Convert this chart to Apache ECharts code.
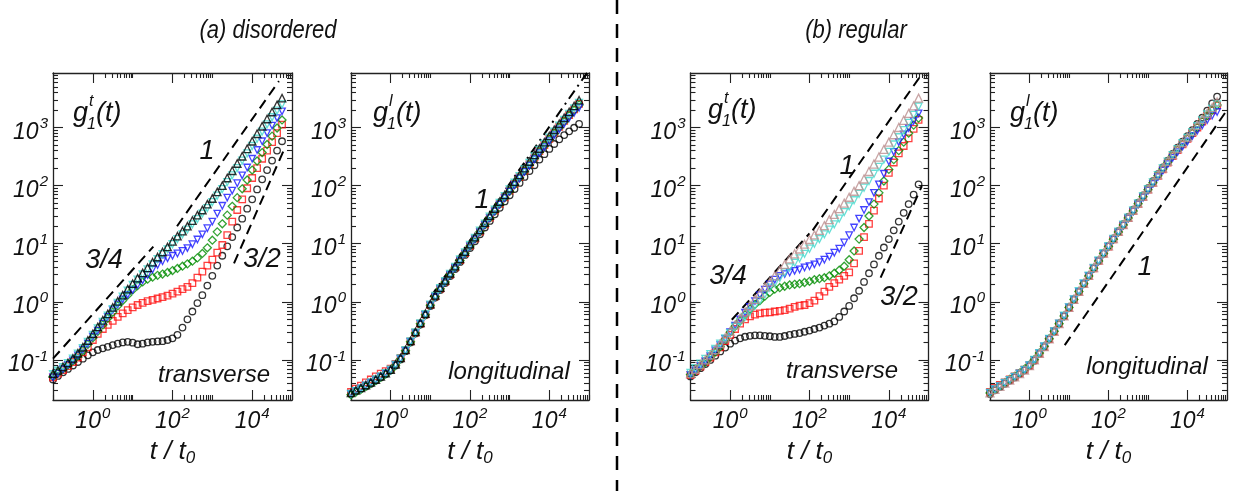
<!DOCTYPE html>
<html><head><meta charset="utf-8">
<script src="https://cdn.jsdelivr.net/npm/echarts@6/dist/echarts.min.js"></script>
<style>html,body{margin:0;padding:0;background:#fff}#c{width:1236px;height:491px}</style>
</head><body><div id="c"></div>
<script>
// time axis t / t0 (shared by all series)
const t = [0.1,0.133,0.178,0.237,0.316,0.422,0.562,0.75,1,1.33,1.78,2.37,3.16,4.22,5.62,7.5,10,13.3,17.8,23.7,31.6,42.2,56.2,75,100,133,178,237,316,422,562,750,1000,1330,1780,2370,3160,4220,5620,7500,10000,13300,17800,23700,31600,42200,56200];

// tick labels
const X_TICKS = [1, 100, 10000];
const Y_TICKS = [0.1, 1, 10, 100, 1000];

// (a) disordered - transverse g1^t
const aT_circles = [0.046,0.053,0.061,0.07,0.08,0.092,0.105,0.12,0.135,0.148,0.158,0.168,0.18,0.19,0.2,0.205,0.198,0.186,0.19,0.2,0.205,0.208,0.21,0.22,0.235,0.27,0.36,0.5,0.68,0.95,1.3,1.9,2.8,4.2,6.2,9,13,19,27,40,58,86,128,185,270,400,580];
const aT_squares = [0.05,0.058,0.067,0.078,0.092,0.11,0.135,0.165,0.22,0.28,0.34,0.4,0.47,0.55,0.63,0.72,0.8,0.88,0.96,1.03,1.08,1.14,1.2,1.28,1.38,1.5,1.65,1.8,2.1,2.6,3.3,4.2,5.3,7,9.5,14,24,38,58,90,135,200,290,400,560,800,1120];
const aT_diamonds = [0.052,0.06,0.07,0.082,0.097,0.118,0.145,0.185,0.24,0.31,0.4,0.52,0.66,0.85,1.05,1.3,1.6,1.9,2.2,2.45,2.65,2.85,3.0,3.2,3.45,3.75,4.1,4.5,5.0,5.7,6.8,8.5,11.5,16,22,31,44,62,88,125,185,265,370,510,710,980,1350];
const aT_downTri = [0.05,0.058,0.069,0.082,0.098,0.12,0.15,0.19,0.25,0.32,0.42,0.55,0.72,0.9,1.1,1.32,1.6,1.95,2.35,2.9,3.6,4.3,5.0,5.6,6.2,6.8,7.5,8.4,9.8,11.8,14.5,18.5,24,33,45,62,82,110,150,205,290,410,580,800,1080,1450,1900];
const aT_cyan = [0.057,0.065,0.075,0.088,0.105,0.128,0.16,0.205,0.27,0.35,0.45,0.58,0.75,0.96,1.22,1.55,1.95,2.4,2.95,3.6,4.4,5.4,6.6,8,9.8,12,14.5,17.5,21.5,26.5,33,41,52,67,87,115,150,200,270,360,480,640,850,1130,1500,1950,2500];
const aT_upTri = [0.058,0.066,0.076,0.089,0.106,0.13,0.165,0.215,0.28,0.37,0.48,0.62,0.8,1.02,1.3,1.65,2.05,2.55,3.15,3.85,4.8,5.9,7.2,8.8,11,13.5,16.5,20,25,31,38,48,60,78,100,135,180,240,320,430,580,780,1050,1400,1850,2450,3200];

// (a) disordered - longitudinal g1^l
const aL_circles = [0.026,0.029,0.032,0.035,0.039,0.044,0.05,0.057,0.066,0.08,0.102,0.141,0.2,0.285,0.405,0.585,0.85,1.18,1.6,2.1,2.78,3.65,4.85,6.4,8.4,11.0,14.5,19,24.7,32,41.5,53.5,68,87,111,141,178,224,280,348,428,520,625,740,860,990,1150];
const aL_squares = [0.028,0.032,0.036,0.041,0.046,0.052,0.058,0.064,0.071,0.085,0.108,0.147,0.208,0.295,0.42,0.605,0.885,1.24,1.68,2.22,2.95,3.9,5.2,6.9,9.2,12.2,16.2,21.5,28.2,37,48.5,63,82,107,140,182,235,305,392,500,640,815,1030,1300,1640,2050,2550];
const aL_diamonds = [0.025,0.028,0.031,0.035,0.039,0.044,0.05,0.057,0.066,0.081,0.104,0.144,0.205,0.291,0.418,0.6,0.875,1.23,1.67,2.2,2.92,3.86,5.15,6.85,9.1,12.1,16.0,21.2,27.8,36.5,48,62,80,104,136,177,228,296,380,485,620,790,1000,1260,1590,1980,2450];
const aL_downTri = [0.026,0.029,0.032,0.036,0.04,0.045,0.051,0.058,0.066,0.081,0.104,0.143,0.204,0.29,0.415,0.595,0.865,1.21,1.65,2.18,2.9,3.82,5.1,6.75,9.0,11.9,15.8,21,27.5,36,47,61,79,102,133,172,220,284,362,460,585,740,930,1160,1450,1790,2180];
const aL_cyan = [0.026,0.029,0.032,0.036,0.041,0.046,0.052,0.059,0.068,0.083,0.106,0.147,0.209,0.298,0.425,0.61,0.895,1.26,1.71,2.27,3.02,4.0,5.35,7.1,9.5,12.6,16.7,22.2,29.2,38.4,50.5,66,86,112,146,190,245,318,410,523,668,850,1075,1355,1710,2140,2650];
const aL_upTri = [0.027,0.03,0.033,0.037,0.041,0.046,0.052,0.059,0.068,0.084,0.108,0.149,0.212,0.303,0.435,0.625,0.915,1.29,1.76,2.33,3.1,4.1,5.5,7.3,9.8,13,17.3,23,30.4,40,53,69,90,117,153,200,260,338,435,558,715,915,1160,1470,1860,2350,2950];

// (b) regular - transverse g1^t
const bT_circles = [0.052,0.061,0.072,0.085,0.1,0.118,0.14,0.163,0.19,0.215,0.235,0.25,0.26,0.265,0.265,0.26,0.255,0.248,0.248,0.258,0.27,0.28,0.29,0.305,0.32,0.34,0.36,0.39,0.42,0.46,0.55,0.68,0.85,1.15,1.55,2.2,3.1,4.4,6.2,8.6,12,17,24,34,48,70,105];
const bT_squares = [0.055,0.065,0.077,0.092,0.11,0.135,0.165,0.21,0.27,0.34,0.42,0.5,0.56,0.6,0.63,0.65,0.66,0.68,0.7,0.72,0.76,0.82,0.86,0.88,0.95,1.05,1.25,1.5,1.8,2.1,2.4,2.8,3.2,4.6,7.5,13,22,37,60,100,165,250,360,480,650,950,1350];
const bT_diamonds = [0.056,0.066,0.078,0.093,0.112,0.137,0.17,0.225,0.3,0.38,0.47,0.6,0.75,0.9,1.05,1.25,1.45,1.65,1.75,1.85,1.95,2.0,2.05,2.15,2.25,2.4,2.5,2.6,2.8,3.1,3.5,4.1,5.3,7.5,12,19,30,48,75,120,190,280,400,560,800,1100,1450];
const bT_downTri = [0.055,0.066,0.079,0.095,0.116,0.145,0.18,0.23,0.3,0.39,0.5,0.65,0.82,1.03,1.3,1.62,2.0,2.4,2.8,3.0,3.2,3.4,3.6,3.9,4.1,4.4,4.8,5.3,6.0,7.0,8.2,10.5,14,19,27,38,52,75,105,160,260,380,560,760,980,1300,1750];
const bT_cyan = [0.06,0.072,0.086,0.104,0.126,0.155,0.19,0.235,0.29,0.37,0.45,0.55,0.68,0.85,1.05,1.35,1.75,2.1,2.6,3.2,3.9,4.7,5.6,6.7,8.2,10,12,14.5,17.5,21.5,27,35,44,56,72,92,120,160,210,280,380,510,680,900,1200,1650,2300];
const bT_upTri = [0.058,0.069,0.083,0.1,0.122,0.15,0.19,0.24,0.31,0.4,0.52,0.67,0.86,1.1,1.4,1.8,2.2,2.8,3.5,4.4,5.5,6.7,8.1,9.8,11.8,14.2,17,20.5,26,32,40,50,63,80,100,130,175,235,310,420,560,750,1000,1330,1750,2350,3200];

// (b) regular - longitudinal g1^l
const bL_circles = [0.026,0.03,0.034,0.039,0.044,0.05,0.057,0.066,0.078,0.097,0.127,0.168,0.226,0.305,0.415,0.565,0.79,1.09,1.49,2.04,2.8,3.8,5.1,6.9,9.2,12.3,16.4,21.6,29,38.5,51,68,90,119,158,206,270,350,450,570,710,900,1150,1480,1950,2600,3400];
const bL_squares = [0.028,0.033,0.037,0.041,0.046,0.052,0.059,0.068,0.08,0.099,0.128,0.168,0.228,0.31,0.42,0.57,0.79,1.08,1.48,2.03,2.78,3.78,5.05,6.75,8.9,11.9,15.8,20.8,27.7,36.6,48.5,64,85,111,147,191,250,322,410,515,635,800,1000,1260,1590,1980,2400];
const bL_diamonds = [0.027,0.031,0.035,0.04,0.046,0.052,0.059,0.069,0.082,0.102,0.132,0.172,0.232,0.312,0.42,0.57,0.8,1.1,1.5,2.05,2.78,3.78,5.05,6.75,8.95,11.9,15.9,20.9,27.8,36.7,48.6,64.5,85,112,148,193,252,326,415,522,640,805,1010,1270,1610,2000,2450];
const bL_downTri = [0.027,0.031,0.035,0.04,0.045,0.051,0.058,0.067,0.08,0.1,0.13,0.17,0.23,0.31,0.42,0.57,0.8,1.1,1.5,2.05,2.78,3.75,5.0,6.7,8.9,11.8,15.7,20.6,27.3,36,47.5,62.5,82,107,140,181,234,300,378,470,575,715,885,1090,1340,1600,1850];
const bL_cyan = [0.027,0.031,0.035,0.04,0.045,0.051,0.058,0.067,0.08,0.1,0.13,0.17,0.23,0.31,0.42,0.575,0.8,1.1,1.52,2.07,2.82,3.82,5.15,6.85,9.05,12.1,16.1,21.2,28.2,37.3,49.5,65.5,86.5,114,151,197,258,334,425,537,660,835,1050,1320,1680,2080,2500];
const bL_upTri = [0.027,0.031,0.035,0.04,0.045,0.051,0.058,0.067,0.08,0.1,0.13,0.17,0.23,0.31,0.42,0.575,0.8,1.1,1.52,2.08,2.84,3.86,5.2,6.9,9.15,12.2,16.3,21.4,28.5,37.7,50,66,87.5,115,153,200,262,340,435,550,680,860,1090,1380,1760,2200,2750];

// power-law guide lines: [t, g] end points
const guide_a_34 = [[0.1,0.105],[33,8.9]];
const guide_a_1 = [[130,20],[47000,6300]];
const guide_a_32 = [[3500,4.6],[63000,415]];
const guide_al_1 = [[10,1.2],[89000,8700]];
const guide_b_34 = [[1.1,0.49],[100,15]];
const guide_b_1 = [[120,17],[62000,7600]];
const guide_b_32 = [[6200,2.6],[68000,98]];
const guide_bl_1 = [[7.8,0.18],[89000,1780]];

const FONT = "'Liberation Sans', Arial, Helvetica, sans-serif";
const X_MIN = 0.1, X_MAX = 1e5, Y_MIN = 0.0204, Y_MAX = 8670;

const panelRects = [
  {left:53, top:73, width:239, height:327},
  {left:351, top:73, width:238, height:327},
  {left:690.5, top:73, width:238, height:327},
  {left:990, top:73, width:237, height:327}
];

function nice(v){ return Number(v.toPrecision(6)); }
const X_MINOR = [];
[-2,0,2,4].forEach(k=>{ for(let m=2;m<=10;m++){ const v=nice(m*Math.pow(10,k)); if(v>=X_MIN && v<=X_MAX) X_MINOR.push(v);} });
const Y_MINOR = [];
[-2,-1,0,1,2,3].forEach(k=>{ for(let m=2;m<=9;m++){ const v=nice(m*Math.pow(10,k)); if(v>=Y_MIN && v<=Y_MAX) Y_MINOR.push(v);} });

const RICH = {
  b:{fontSize:23, fontStyle:'italic', fontFamily:FONT, color:'#111', lineHeight:32},
  s:{fontSize:15, fontStyle:'italic', fontFamily:FONT, color:'#111', verticalAlign:'top', lineHeight:15, padding:[0,0,0,1]}
};
function powFmt(v){ const e = Math.round(Math.log10(v)); return '{b|10}{s|' + e + '}'; }

const LINE = {color:'#222', width:1.3};
const grid = [], xAxis = [], yAxis = [];
panelRects.forEach((r, p) => {
  // 4 overlapping grids per panel: main, minor, opposite main, opposite minor
  for (let k=0;k<4;k++){
    grid.push({left:r.left, top:r.top, width:r.width, height:r.height, containLabel:false});
    const gi = p*4 + k;
    const opposite = k>=2, minor = (k%2)===1;
    xAxis.push({
      gridIndex:gi, type:'log', logBase:10, min:X_MIN, max:X_MAX,
      position: opposite ? 'top' : 'bottom',
      axisLine:{show: !minor, onZero:false, lineStyle:LINE},
      axisTick:{show:true, inside:true, length: minor?5:10, customValues: minor?X_MINOR:X_TICKS, lineStyle:{color:'#222', width:1.1}},
      axisLabel:{show: k===0, customValues:X_TICKS, formatter:powFmt, rich:RICH, margin:6},
      splitLine:{show:false}, minorTick:{show:false},
      name: k===0 ? '{a|t / t}{u|0}' : '',
      nameLocation:'middle', nameGap:33,
      nameTextStyle:{rich:{
        a:{fontSize:26, fontStyle:'italic', fontFamily:FONT, color:'#111', lineHeight:30},
        u:{fontSize:17, fontStyle:'italic', fontFamily:FONT, color:'#111', verticalAlign:'bottom', lineHeight:14}
      }}
    });
    yAxis.push({
      gridIndex:gi, type:'log', logBase:10, min:Y_MIN, max:Y_MAX,
      position: opposite ? 'right' : 'left',
      axisLine:{show: !minor, onZero:false, lineStyle:LINE},
      axisTick:{show:true, inside:true, length: minor?5:10, customValues: minor?Y_MINOR:Y_TICKS, lineStyle:{color:'#222', width:1.1}},
      axisLabel:{show: k===0, customValues:Y_TICKS, formatter:powFmt, rich:RICH, margin:5, padding:[10,0,0,0]},
      splitLine:{show:false}, minorTick:{show:false}
    });
  }
});

const STY = {
  circles:{symbol:'circle', c:'#000000', size:6.5, rot:0},
  squares:{symbol:'rect', c:'#ff1010', size:6.5, rot:0},
  diamonds:{symbol:'diamond', c:'#008c00', size:8, rot:0},
  downTri:{symbol:'triangle', c:'#1414ff', size:6.5, rot:180},
  cyan:{symbol:'triangle', c:'#40d8cc', size:7, rot:180},
  upTri:{symbol:'triangle', c:'#000000', size:7.5, rot:0},
  pinkTri:{symbol:'triangle', c:'#bc8f8f', size:8, rot:0}
};
function scat(p, key, ys){
  const s = STY[key];
  return {type:'scatter', xAxisIndex:p*4, yAxisIndex:p*4, data:t.map((x,i)=>[x, ys[i]]),
    symbol:s.symbol, symbolSize:s.size, symbolRotate:s.rot, silent:true, z:3,
    itemStyle:{color:'rgba(255,255,255,0)', borderColor:s.c, borderWidth:1.3}};
}
function guide(p, pts, dash){
  return {type:'line', xAxisIndex:p*4, yAxisIndex:p*4, data:pts, showSymbol:false, silent:true, z:2,
    lineStyle:{color:'#000', width:2, type:dash}};
}
const DASH = [10,6], DASHDOT = [10,5,2,5];

const series = [
  scat(0,'circles',aT_circles), scat(0,'squares',aT_squares), scat(0,'diamonds',aT_diamonds),
  scat(0,'downTri',aT_downTri), scat(0,'cyan',aT_cyan), scat(0,'upTri',aT_upTri),
  guide(0,guide_a_34,DASH), guide(0,guide_a_1,DASH), guide(0,guide_a_32,DASH),
  scat(1,'circles',aL_circles), scat(1,'squares',aL_squares), scat(1,'diamonds',aL_diamonds),
  scat(1,'downTri',aL_downTri), scat(1,'cyan',aL_cyan), scat(1,'upTri',aL_upTri),
  guide(1,guide_al_1,DASHDOT),
  scat(2,'circles',bT_circles), scat(2,'squares',bT_squares), scat(2,'diamonds',bT_diamonds),
  scat(2,'downTri',bT_downTri), scat(2,'cyan',bT_cyan), scat(2,'pinkTri',bT_upTri),
  guide(2,guide_b_34,DASH), guide(2,guide_b_1,DASH), guide(2,guide_b_32,DASH),
  scat(3,'circles',bL_circles), scat(3,'squares',bL_squares), scat(3,'diamonds',bL_diamonds),
  scat(3,'downTri',bL_downTri), scat(3,'cyan',bL_cyan), scat(3,'pinkTri',bL_upTri),
  guide(3,guide_bl_1,DASH)
];

function txt(text, x, y, size, extra){
  return Object.assign({type:'text', x:x, y:y, z:50, silent:true,
    style:{text:text, fontSize:size, fontStyle:'italic', fontFamily:FONT, fill:'#111', align:'center', verticalAlign:'middle'}}, extra||{});
}
function gLabel(x, y, sup){
  return [
    {type:'text', x:x, y:y-1, z:50, silent:true, style:{text:'g', fontSize:27, fontStyle:'italic', fontFamily:FONT, fill:'#111', align:'left', verticalAlign:'top'}},
    {type:'text', x:x+14, y:y+16, z:50, silent:true, style:{text:'1', fontSize:16, fontStyle:'italic', fontFamily:FONT, fill:'#111', align:'left', verticalAlign:'top'}},
    {type:'text', x:x+16, y:y-7, z:50, silent:true, style:{text:sup, fontSize:16, fontStyle:'italic', fontFamily:FONT, fill:'#111', align:'left', verticalAlign:'top'}},
    {type:'text', x:x+23, y:y-1, z:50, silent:true, style:{text:'(t)', fontSize:27, fontStyle:'italic', fontFamily:FONT, fill:'#111', align:'left', verticalAlign:'top'}}
  ];
}
const graphic = [
  {type:'line', z:1, silent:true, shape:{x1:617, y1:0, x2:617, y2:491}, style:{stroke:'#000', lineWidth:2.5, lineDash:[14,10]}},
  txt('(a) disordered', 268, 31, 25, {scaleX:0.88}),
  txt('(b) regular', 856, 31, 25, {scaleX:0.88}),
  ...gLabel(73, 101, 't'), ...gLabel(373, 101, 'l'), ...gLabel(708, 98, 't'), ...gLabel(1010, 101, 'l'),
  txt('1', 207, 151, 27), txt('3/4', 104, 260, 27), txt('3/2', 262, 259, 27), txt('transverse', 214, 375, 24),
  txt('1', 482, 200, 27), txt('longitudinal', 509, 372, 24),
  txt('1', 847, 166, 27), txt('3/4', 728, 276, 27), txt('3/2', 899, 297, 27), txt('transverse', 842, 371, 24),
  txt('1', 1145, 267, 27), txt('longitudinal', 1147, 367, 24)
];

const chart = echarts.init(document.getElementById('c'), null, {renderer:'canvas'});
chart.setOption({animation:false, backgroundColor:'#fff', grid, xAxis, yAxis, series, graphic});
</script>
</body></html>
